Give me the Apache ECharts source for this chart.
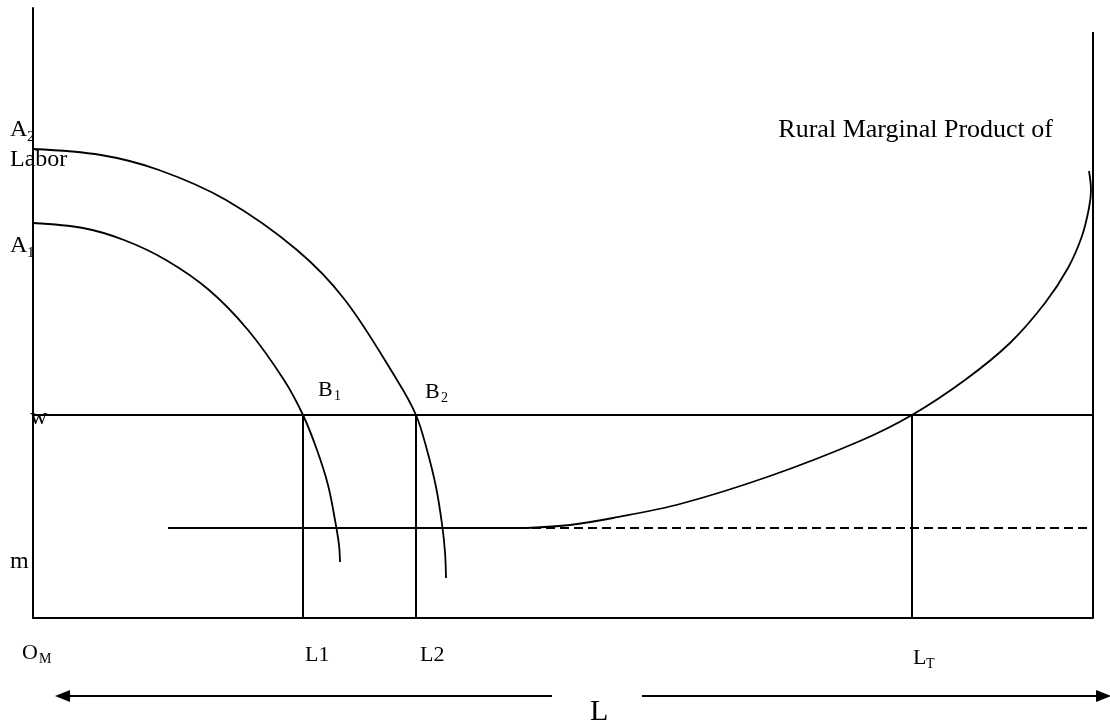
<!DOCTYPE html>
<html>
<head>
<meta charset="utf-8">
<script src="https://cdn.jsdelivr.net/npm/echarts@6/dist/echarts.min.js"></script>
<style>
  html, body { margin: 0; padding: 0; background: #fff; }
  #main { width: 1110px; height: 723px; }
</style>
</head>
<body>
<div id="main"></div>
<script>
// 数据（横轴：劳动 L，纵轴：工资/边际产出），读自原图
var wageLevel = 203;        // w
var subsistence = 90;       // m
var laborMax = 1060;        // 右侧纵轴位置
var rightAxisTop = 586;
var laborMarks = [270, 383, 879];   // L1, L2, LT
var flatStart = 135;        // 农村曲线水平段起点
var flatEnd = 494;          // 水平段终点

// 城市部门劳动边际产出曲线 A1、A2
var curveA1 = [[0, 395], [50, 390], [91, 378], [133, 358], [176, 328], [215, 288],
    [251, 238], [270, 203], [284, 168], [295, 133], [302, 98], [306, 73], [307, 56]];
var curveA2 = [[0, 469], [68, 463], [126, 448], [193, 418], [264, 368], [312, 318],
    [364, 238], [383, 203], [394, 168], [403, 131], [409, 94], [412, 66], [413, 40]];
// 农村劳动边际产出曲线（上升段）
var ruralCurve = [[494, 90], [537, 93], [580, 100], [647, 114], [737, 142],
    [827, 177], [879, 203], [932, 238], [977, 275], [1012, 315], [1035, 350],
    [1049, 382], [1056, 410], [1058, 428], [1056, 447]];

var chart = echarts.init(document.getElementById('main'));

var font = 'Liberation Serif, Times New Roman, serif';

function curve(data, smooth, width) {
    return {
        type: 'line',
        data: data,
        showSymbol: false,
        smooth: smooth || false,
        lineStyle: { color: '#000', width: width || 2 },
        silent: true
    };
}

var series = [
    curve(curveA1, 0.35, 1.8),
    curve(curveA2, 0.35, 1.8),
    curve(ruralCurve, 0.35, 1.8),
    curve([[flatStart, subsistence], [flatEnd, subsistence]], false, 1.8),
    curve([[0, wageLevel], [laborMax, wageLevel]]),
    {
        type: 'line',
        data: [[flatStart, subsistence], [laborMax, subsistence]],
        showSymbol: false,
        lineStyle: { color: '#000', width: 2, type: [9, 5] }
    },
    curve([[laborMax, 0], [laborMax, rightAxisTop]])
];
// L1, L2, LT 的竖线
for (var i = 0; i < laborMarks.length; i++) {
    series.push(curve([[laborMarks[i], 0], [laborMarks[i], wageLevel]]));
}

function txt(s, x, y, size) {
    return {
        type: 'text', left: x, top: y - size / 2,
        style: { text: s, font: size + 'px ' + font, fill: '#000' }
    };
}
function arrowHead(points) {
    return { type: 'polygon', shape: { points: points }, style: { fill: '#000' } };
}

var graphics = [
    txt('A', 10, 130, 24), txt('2', 27, 137, 15),
    txt('Labor', 10, 160, 24),
    txt('A', 10, 246, 24), txt('1', 27, 253, 15),
    txt('w', 30, 418, 24),
    txt('m', 10, 562, 24),
    txt('B', 318, 390, 22), txt('1', 334, 396, 14),
    txt('B', 425, 392, 22), txt('2', 441, 398, 14),
    txt('L1', 305, 655, 22),
    txt('L2', 420, 655, 22),
    txt('O', 22, 653, 22), txt('M', 39, 659, 14),
    txt('L', 913, 658, 22), txt('T', 926, 664, 14),
    txt('L', 590, 712, 30),
    {
        type: 'text', right: 1110 - 1053, top: 130 - 13,
        style: { text: 'Rural Marginal Product of', font: '26px ' + font, fill: '#000' }
    },
    // 底部双向箭头
    { type: 'line', shape: { x1: 66, y1: 696, x2: 552, y2: 696 }, style: { stroke: '#000', lineWidth: 2 } },
    arrowHead([[55, 696], [70, 690], [70, 702]]),
    { type: 'line', shape: { x1: 642, y1: 696, x2: 1100, y2: 696 }, style: { stroke: '#000', lineWidth: 2 } },
    arrowHead([[1111, 696], [1096, 690], [1096, 702]])
];

var axisLine = { show: true, onZero: false, lineStyle: { color: '#000', width: 2 } };

chart.setOption({
    animation: false,
    grid: { left: 33, top: 8, width: 1060, height: 610 },
    xAxis: {
        type: 'value', min: 0, max: laborMax,
        axisLine: axisLine, axisTick: { show: false }, axisLabel: { show: false },
        splitLine: { show: false }
    },
    yAxis: {
        type: 'value', min: 0, max: 610,
        axisLine: axisLine, axisTick: { show: false }, axisLabel: { show: false },
        splitLine: { show: false }
    },
    series: series,
    graphic: graphics
});
</script>
</body>
</html>
